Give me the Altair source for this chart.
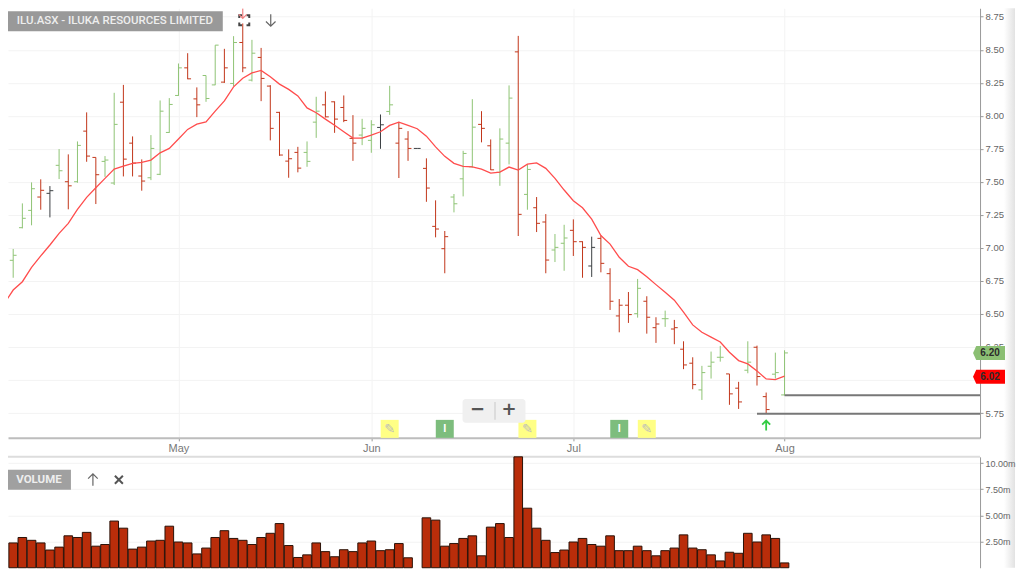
import altair as alt
import pandas as pd

# ---- values ----
open_ = [6.755,6.906,7.153,7.284,7.385,7.413,7.625,7.501,7.501,7.884,7.685,7.655,7.491,8.103,7.793,7.544,7.531,7.557,7.874,8.154,8.363,8.128,8.305,8.234,8.255,8.245,8.555,8.270,8.442,8.225,8.026,7.657,7.723,7.723,7.952,8.083,8.106,8.063,7.829,7.854,7.814,7.912,8.033,7.793,7.824,7.753,7.602,7.163,6.994,7.385,7.523,7.614,7.935,7.773,7.572,7.793,8.484,7.405,7.304,7.196,6.984,7.035,7.133,7.047,6.863,7.072,6.805,6.485,6.566,6.502,6.596,6.396,6.464,6.386,6.233,6.127,5.925,6.104,6.172,6.046,5.938,6.074,6.248,5.874,6.044,5.887]
high = [6.755,6.992,7.337,7.496,7.519,7.468,7.748,7.708,7.806,8.026,7.685,7.695,8.174,8.234,7.844,7.670,7.854,8.116,8.134,8.396,8.474,8.215,8.305,8.535,8.507,8.603,8.699,8.575,8.514,8.232,8.030,7.746,7.765,7.806,8.144,8.184,8.109,8.154,8.005,7.977,7.967,8.010,8.227,7.954,7.884,7.753,7.678,7.360,7.128,7.408,7.735,8.126,8.035,7.821,7.905,8.230,8.605,7.632,7.385,7.256,7.105,7.175,7.216,7.050,7.085,7.092,6.846,6.613,6.666,6.765,6.634,6.475,6.525,6.455,6.293,6.172,6.107,6.215,6.258,6.046,5.986,6.293,6.260,5.905,6.207,6.225]
low = [6.755,6.774,7.148,7.171,7.289,7.231,7.521,7.292,7.493,7.652,7.332,7.538,7.476,7.541,7.541,7.433,7.513,7.551,7.871,8.151,8.277,7.990,8.106,8.232,8.249,8.225,8.330,8.260,8.111,7.814,7.697,7.531,7.572,7.614,7.833,7.988,7.871,7.952,7.659,7.778,7.720,7.750,8.007,7.529,7.659,7.753,7.349,7.080,6.808,7.269,7.390,7.607,7.799,7.589,7.470,7.632,7.090,7.289,7.120,6.808,6.893,6.827,6.939,6.774,6.780,6.815,6.530,6.361,6.432,6.472,6.351,6.281,6.402,6.271,6.082,5.930,5.849,6.011,6.139,5.812,5.781,6.051,5.958,5.746,6.011,5.882]
close = [6.755,6.944,7.224,7.448,7.436,7.433,7.584,7.470,7.776,7.695,7.554,7.665,7.935,7.672,7.642,7.506,7.753,8.035,8.086,8.363,8.280,8.083,8.131,8.535,8.363,8.555,8.363,8.474,8.283,7.905,7.703,7.675,7.604,7.655,8.035,7.992,7.975,7.965,7.793,7.905,7.932,7.932,8.083,7.905,7.753,7.753,7.453,7.143,7.085,7.334,7.715,7.914,7.905,7.591,7.824,8.134,7.254,7.594,7.186,6.908,7.004,7.075,7.047,7.004,7.004,6.883,6.596,6.566,6.495,6.694,6.475,6.424,6.464,6.396,6.114,5.965,6.056,6.135,6.172,5.895,5.834,6.135,6.026,5.776,6.056,6.205]
sma = [6.576,6.681,6.744,6.853,6.939,7.022,7.110,7.186,7.292,7.383,7.455,7.526,7.597,7.619,7.640,7.647,7.665,7.720,7.753,7.824,7.897,7.937,7.954,8.035,8.113,8.219,8.285,8.325,8.343,8.295,8.240,8.200,8.151,8.060,8.023,7.975,7.929,7.879,7.831,7.831,7.854,7.879,7.927,7.952,7.927,7.902,7.846,7.765,7.693,7.640,7.617,7.614,7.597,7.566,7.574,7.612,7.589,7.634,7.644,7.602,7.526,7.438,7.357,7.304,7.218,7.094,7.029,6.929,6.861,6.835,6.782,6.722,6.664,6.604,6.513,6.417,6.361,6.324,6.288,6.210,6.147,6.122,6.069,6.008,6.003,6.029]
green_bars = [1,2,3,6,8,11,12,16,17,18,19,22,23,25,27,33,34,39,40,42,49,50,51,54,55,57,60,61,69,72,76,77,78,81,84,85]
dark_bars = [0,5,41,45,64]
volume = [None,2.37,2.89,2.62,2.37,1.69,1.97,3.05,2.89,3.38,2.06,2.22,4.46,3.78,1.78,1.97,2.55,2.62,3.97,2.46,2.37,1.32,1.88,2.89,3.54,2.80,2.62,2.22,2.89,3.29,4.22,2.12,0.98,1.23,2.37,1.54,1.05,1.72,1.54,2.37,2.55,1.63,1.72,2.31,0.95,None,4.77,4.55,2.06,2.31,2.80,3.05,1.14,3.88,4.22,2.89,10.6,5.69,3.78,2.62,1.45,1.69,2.46,2.80,2.22,2.06,3.05,1.63,1.63,2.06,1.63,1.14,1.63,1.88,3.14,1.88,1.72,1.23,0.65,1.48,1.38,3.29,2.46,3.14,2.80,0.46]
month_bars = [19, 40, 62, 85]
month_names = ["May", "Jun", "Jul", "Aug"]
price_ticks = [5.75, 6.0, 6.25, 6.5, 6.75, 7.0, 7.25, 7.5, 7.75, 8.0, 8.25, 8.5, 8.75]
volume_ticks = [2.5, 5.0, 7.5, 10.0]
level_start = [85, 82]
level_price = [5.885, 5.745]
tag_price = [6.204, 6.025]
tag_text = ["6.20", "6.02"]
tag_fill = ["#8bbf73", "#ff0000"]
note_bars = [42, 57, 70]
info_bars = [48, 67]

# ---- style ----
GREEN, RED, DARK = "#8fc474", "#c2361a", "#3b3f42"
FONT = "Liberation Sans"
X_END = 106.29
x_scale = alt.Scale(domain=[0.435, X_END], nice=False, zero=False)
y_scale = alt.Scale(domain=[5.562, 8.814], nice=False, zero=False)
v_scale = alt.Scale(domain=[0, 10.6], nice=False, zero=True)
PW, PH, VH = 973, 430, 111
ARROW_DOWN = "M0,-1L0,1M-0.8,0.2L0,1L0.8,0.2"
ARROW_UP = "M0,1L0,-1M-0.8,-0.2L0,-1L0.8,-0.2"
CROSS = "M-1,-1L1,1M-1,1L1,-1"
CORNERS = "M-1,-0.45L-1,-1L-0.45,-1M0.45,-1L1,-1L1,-0.45M1,0.45L1,1L0.45,1M-0.45,1L-1,1L-1,0.45"

idx = list(range(len(close)))
tones = ["g" if i in green_bars else "d" if i in dark_bars else "r" for i in idx]
df = pd.DataFrame({"i": idx, "open": open_, "high": high, "low": low, "close": close, "sma": sma, "tone": tones})
df["ol"] = df.i - 0.37
df["cr"] = df.i + 0.37
tone_color = alt.Color("tone:N", legend=None,
                       scale=alt.Scale(domain=["g", "r", "d"], range=[GREEN, RED, DARK]))
px = lambda v: v - 8

x_ax = alt.Axis(
    values=month_bars,
    labelExpr="{" + ",".join(f"{b}:'{n}'" for b, n in zip(month_bars, month_names)) + "}[datum.value]",
    grid=True, gridColor="#f3f3f3", domainColor="#bdbdbd", domainWidth=2, tickColor="#999999",
    tickSize=3, labelColor="#777777", labelFont=FONT, labelFontSize=11, labelPadding=2)
y_ax = alt.Axis(
    orient="right", values=price_ticks, labelExpr="format(datum.value,'.2f')", grid=True,
    gridColor="#f3f3f3", domainColor="#999999", tickColor="#999999", tickSize=3, labelColor="#666666",
    labelFont=FONT, labelFontSize=9.5, labelPadding=2, labelOverlap=False, labelSeparation=0)


def X(f):
    return alt.X(f, scale=x_scale, title=None, axis=x_ax)


def Y(f):
    return alt.Y(f, scale=y_scale, title=None, axis=y_ax)


def rect(x1, y1, x2, y2, fill, off=0, **kw):
    return alt.Chart(pd.DataFrame({"a": [0]})).mark_rect(fill=fill, **kw).encode(
        x=alt.value(px(x1)), x2=alt.value(px(x2)),
        y=alt.value(px(y1) - off), y2=alt.value(px(y2) - off))


def label(x, y, text, size, color, off=0, weight="normal", font=FONT, align="center"):
    return alt.Chart(pd.DataFrame({"t": [text]})).mark_text(
        fontSize=size, color=color, fontWeight=weight, font=font, align=align, baseline="middle"
    ).encode(x=alt.value(px(x)), y=alt.value(px(y) - off), text="t:N")


def icon(x, y, shape, span, color, width=1.2, off=0):
    return alt.Chart(pd.DataFrame({"a": [0]})).mark_point(
        shape=shape, size=span * span, filled=False, stroke=color, strokeWidth=width, opacity=1
    ).encode(x=alt.value(px(x)), y=alt.value(px(y) - off))


stems = alt.Chart(df).mark_rule(strokeWidth=1, clip=True).encode(
    x=X("i:Q"), y=Y("high:Q"), y2="low:Q", color=tone_color)
open_ticks = alt.Chart(df).mark_rule(strokeWidth=1, clip=True).encode(
    x=X("ol:Q"), x2="i:Q", y=Y("open:Q"), color=tone_color)
close_ticks = alt.Chart(df).mark_rule(strokeWidth=1, clip=True).encode(
    x=X("i:Q"), x2="cr:Q", y=Y("close:Q"), color=tone_color)
sma_line = alt.Chart(df).mark_line(color="#ff4d4d", strokeWidth=1.3, clip=True).encode(
    x=X("i:Q"), y=Y("sma:Q"))

lv = pd.DataFrame({"s": level_start, "e": [X_END] * len(level_start), "p": level_price})
levels = alt.Chart(lv).mark_rule(color="#777777", strokeWidth=2).encode(
    x=X("s:Q"), x2="e:Q", y=Y("p:Q"))

tg = pd.DataFrame({"p": tag_price, "t": tag_text, "f": tag_fill})
tags = alt.Chart(tg).mark_point(
    shape="M-1,0 L-0.8,-0.44 L1,-0.44 L1,0.44 L-0.8,0.44 Z", size=1024, filled=True, opacity=1, strokeWidth=0
).encode(x=alt.value(px(990)), y=Y("p:Q"), fill=alt.Fill("f:N", scale=None, legend=None))
tag_labels = alt.Chart(tg).mark_text(fontSize=10, font=FONT, color="#2b2b2b", fontWeight="bold").encode(
    x=alt.value(px(991)), y=Y("p:Q"), text="t:N")

note_df = pd.DataFrame({"i": note_bars, "p": [5.63] * len(note_bars), "t": ["\u270e"] * len(note_bars)})
info_df = pd.DataFrame({"i": info_bars, "p": [5.63] * len(info_bars), "t": ["I"] * len(info_bars)})
notes = alt.Chart(note_df).mark_point(shape="square", size=324, filled=True, color="#ffff85", opacity=1).encode(
    x=X("i:Q"), y=Y("p:Q"))
note_ic = alt.Chart(note_df).mark_text(fontSize=13, color="#bcbcbc", font="DejaVu Sans").encode(
    x=X("i:Q"), y=Y("p:Q"), text="t:N")
infos = alt.Chart(info_df).mark_point(shape="square", size=324, filled=True, color="#7dbd7d", opacity=1).encode(
    x=X("i:Q"), y=Y("p:Q"))
info_ic = alt.Chart(info_df).mark_text(fontSize=11, color="#ffffff", font=FONT, fontWeight="bold").encode(
    x=X("i:Q"), y=Y("p:Q"), text="t:N")

arrow_up = alt.Chart(pd.DataFrame({"i": [83], "p": [5.655]})).mark_point(
    shape=ARROW_UP, size=100, filled=False, stroke="#33cc44", strokeWidth=1.8, opacity=1).encode(
    x=X("i:Q"), y=Y("p:Q"))
arrow_dn = alt.Chart(pd.DataFrame({"i": [26], "p": [8.775]})).mark_point(
    shape=ARROW_DOWN, size=100, filled=False, stroke="#f08080", strokeWidth=1.2, opacity=1, clip=True).encode(
    x=X("i:Q"), y=Y("p:Q"))

shade = alt.LinearGradient(gradient="linear", x1=0, y1=0, x2=1, y2=0, stops=[
    alt.GradientStop(offset=0, color="#ffffff"), alt.GradientStop(offset=1, color="#e2e2e2")])

price_panel = alt.layer(
    rect(1005, 8, 1016, 568, shade),
    stems, levels, open_ticks, close_ticks, sma_line, notes, note_ic, infos, info_ic,
    icon(244.5, 20, CORNERS, 10, "#444444", 2), arrow_up, arrow_dn, tags, tag_labels,
    rect(8, 11, 223, 31, "#999999"),
    label(115, 21, "ILU.ASX - ILUKA RESOURCES LIMITED", 11.5, "#eeeeee", font="Roboto", weight=500),
    icon(271, 20, ARROW_DOWN, 12, "#666666"),
    rect(463, 399, 526, 423, "#f0f0f0", cornerRadius=3),
    label(478, 410, "\u2212", 18, "#555555", weight="bold", font="DejaVu Sans"),
    rect(495, 402, 496, 420, "#c8c8c8"),
    label(509.5, 410, "+", 18, "#555555", weight="bold", font="DejaVu Sans"),
    rect(8, 456, 981, 458, "#dddddd"),
).properties(width=PW, height=PH)

vdf = pd.DataFrame({"i": idx, "volume": volume}).dropna()
vdf["l"] = vdf.i - 0.47
vdf["r"] = vdf.i + 0.47
vol_bars = alt.Chart(vdf).mark_rect(fill="#b92d0a", stroke="#2a1208", strokeWidth=1).encode(
    x=alt.X("l:Q", scale=x_scale, title=None, axis=None), x2="r:Q",
    y=alt.Y("volume:Q", scale=v_scale, title=None, axis=alt.Axis(
        orient="right", values=volume_ticks, labelExpr="format(datum.value,'.2f')+'m'", grid=True,
        gridColor="#f3f3f3", domainColor="#999999", tickColor="#999999", tickSize=3,
        labelColor="#666666", labelFont=FONT, labelFontSize=9, labelPadding=2)),
    y2=alt.value(VH))
OFF = 449
vol_panel = alt.layer(
    vol_bars,
    rect(8, 470, 71, 490, "#a0a0a0", off=OFF),
    label(39, 480, "VOLUME", 11.5, "#eeeeee", off=OFF, weight="bold", font="Roboto"),
    icon(93, 480, ARROW_UP, 12, "#666666", off=OFF),
    icon(119, 480, CROSS, 8, "#555555", 2, off=OFF),
).properties(width=PW, height=VH)

chart = alt.vconcat(price_panel, vol_panel, spacing=OFF - PH, bounds="flush").resolve_scale(
    x="independent", y="independent", color="independent"
).configure_view(stroke=None).properties(padding=0, background="#ffffff")

chart.save("out.html", embed_options={"renderer": "svg", "actions": False})
